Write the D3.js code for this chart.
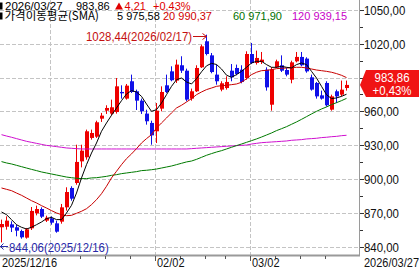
<!DOCTYPE html>
<html><head><meta charset="utf-8">
<script src="https://cdn.jsdelivr.net/npm/d3@7"></script>
<style>html,body{margin:0;padding:0;background:#fff;overflow:hidden}</style>
</head><body><svg id="c" width="419" height="269"></svg>
<script>
const dates = ["2025/12/16","2025/12/17","2025/12/18","2025/12/19","2025/12/22","2025/12/23","2025/12/24","2025/12/26","2025/12/29","2025/12/30",
"2026/01/02","2026/01/05","2026/01/06","2026/01/07","2026/01/08","2026/01/09","2026/01/12","2026/01/13","2026/01/14","2026/01/15","2026/01/16",
"2026/01/19","2026/01/20","2026/01/21","2026/01/22","2026/01/23","2026/01/26","2026/01/27","2026/01/28","2026/01/29","2026/01/30",
"2026/02/02","2026/02/03","2026/02/04","2026/02/05","2026/02/06","2026/02/09","2026/02/10","2026/02/11","2026/02/12","2026/02/13",
"2026/02/17","2026/02/18","2026/02/19","2026/02/20","2026/02/23","2026/02/24","2026/02/25","2026/02/26","2026/02/27",
"2026/03/02","2026/03/03","2026/03/04","2026/03/05","2026/03/06","2026/03/09","2026/03/10","2026/03/11","2026/03/12","2026/03/13",
"2026/03/16","2026/03/17","2026/03/18","2026/03/19","2026/03/20","2026/03/23","2026/03/24","2026/03/25","2026/03/26","2026/03/27"];

const open = [857.5,858.0,860.1,857.5,854.2,848.3,856.6,869.9,873.7,863.4,
865.4,861.0,862.5,875.2,892.4,896.8,916.0,919.6,936.8,937.9,
953.9,961.0,958.4,959.8,977.6,971.7,987.1,978.2,969.9,958.4,
950.1,942.7,962.8,983.5,995.9,987.7,1001.3,996.5,971.7,978.2,
999.5,1022.6,1010.1,993.0,979.7,981.1,996.5,998.9,997.4,990.0,
1011.3,1003.3,1004.2,997.4,966.3,999.5,1001.3,997.1,988.5,1004.8,
1008.7,1007.2,990.6,985.6,974.6,985.6,961.9,978.2,975.2,981.1];
const close = [860.4,863.4,857.2,854.5,848.6,855.7,872.0,873.7,866.9,866.0,
861.6,853.6,875.2,888.8,882.9,915.5,925.5,942.7,941.2,950.7,
956.6,963.4,964.0,982.6,976.4,983.2,977.6,969.9,960.4,951.6,
939.1,961.0,977.6,977.6,988.0,1001.9,996.5,970.8,978.2,998.9,
1018.1,1011.3,995.3,987.1,985.3,986.5,990.6,993.6,986.5,1011.3,
1003.3,1007.8,1006.3,981.7,997.7,1004.8,996.5,993.0,1003.9,1008.7,
1001.3,995.9,979.7,973.7,971.7,965.8,973.7,973.7,979.65,983.86];
const high = [864.3,867.2,862.8,859.8,855.4,856.9,875.5,876.7,875.2,867.8,
867.2,863.4,878.2,893.0,893.9,930.8,930.8,944.2,944.2,952.1,
959.0,965.8,970.8,990.0,983.5,984.7,993.0,979.7,971.7,961.9,
952.1,967.8,982.6,993.0,1000.4,1006.3,1009.3,998.3,980.6,1001.3,
1019.6,1028.44,1012.2,1001.9,987.1,991.5,1002.4,1001.9,1001.3,1013.7,
1021.1,1014.3,1013.1,999.5,999.5,1006.3,1010.1,998.9,1005.4,1013.1,
1013.1,1008.4,993.0,986.5,978.8,987.1,975.2,979.7,987.7,987.7];
const low = [844.06,855.4,853.3,849.5,847.4,847.4,855.1,868.1,865.7,862.2,
859.8,852.7,860.7,872.3,881.1,895.3,910.7,917.5,935.3,936.8,
951.0,958.1,956.9,958.4,971.7,970.8,976.7,961.6,958.1,948.6,
930.8,932.3,960.4,976.7,987.1,985.6,994.5,969.3,969.9,977.6,
998.9,1010.1,994.2,984.1,978.2,979.7,987.1,992.4,985.3,988.5,
1002.4,1001.9,1002.4,978.8,961.0,998.9,995.3,991.5,985.3,1003.9,
1000.4,994.7,978.8,971.7,970.8,964.6,961.0,967.8,973.7,978.8];

const ma5 = [871.1,868.7,864.3,859.8,857.5,856.0,857.5,859.8,862.2,865.2,
866.3,864.3,864.3,870.2,877.0,887.9,901.3,913.1,923.4,932.3,
942.7,950.1,956.9,963.4,969.9,975.8,978.8,977.6,973.7,966.9,
960.4,961.9,967.8,975.2,982.6,988.5,990.0,986.5,984.7,989.4,
995.5,1000.8,1003.0,1002.0,998.0,992.5,990.6,993.0,995.9,999.5,
1003.3,1004.8,1004.8,1001.9,999.5,999.5,1000.4,999.5,998.9,1001.9,
1003.3,1001.9,995.9,990.0,982.6,975.2,971.7,972.3,973.7,975.58];
const ma20 = [892.4,891.2,890.0,887.9,885.9,883.5,881.1,879.1,876.7,874.6,
872.3,870.2,868.7,867.8,868.1,869.9,871.7,874.0,877.6,882.0,
887.3,893.9,901.3,907.2,913.1,918.4,922.6,927.3,932.3,936.2,
939.7,945.6,950.1,954.5,959.0,963.4,965.8,968.7,971.7,975.2,
977.6,979.7,981.1,982.6,983.2,983.5,984.1,984.7,986.2,989.4,
993.0,995.1,996.5,996.8,997.4,998.3,998.6,998.9,999.2,999.5,
999.5,998.9,998.0,997.1,996.5,995.9,995.1,993.9,992.4,990.37];
const ma60 = [915.8,914.6,913.7,912.5,911.3,910.1,908.9,907.8,906.6,905.7,
904.8,903.9,903.0,902.1,901.5,901.0,900.7,900.7,901.3,901.5,
902.1,902.7,903.6,904.2,905.1,905.7,906.3,906.9,907.8,908.1,
908.6,909.2,910.1,911.0,911.9,913.1,914.3,915.5,916.3,917.8,
919.6,921.4,922.9,924.3,925.5,927.0,928.5,930.0,931.4,932.9,
934.4,935.9,937.6,939.4,941.2,943.3,945.0,946.8,948.9,951.0,
953.3,955.7,958.1,960.4,962.5,964.3,966.4,968.1,969.9,971.90];
const ma120 = [939.7,938.5,937.4,936.2,935.0,933.8,932.9,932.0,931.1,930.2,
929.7,929.1,928.5,927.9,927.6,927.3,927.0,927.0,927.0,927.0,
927.0,927.0,927.0,927.0,927.0,927.0,927.0,927.0,927.0,927.0,
927.0,927.0,927.0,927.0,927.0,927.0,927.0,927.0,927.3,927.6,
927.9,928.2,928.5,928.8,929.1,929.4,929.7,930.0,930.2,930.5,
931.4,932.0,932.6,932.9,933.2,933.5,933.8,934.1,934.7,935.0,
935.3,935.9,936.2,936.5,937.1,937.4,937.9,938.2,938.8,939.15];

const yTicks = [840,870,900,930,960,990,1020,1050];
const xTickDates = ["2025/12/16","2026/02/02","2026/03/02","2026/03/27"];
const xTickText = ["2025/12/16","02/02","03/02","2026/03/27"];
const monthGridDates = ["2026/01/02","2026/02/02","2026/03/02"];
const weekTickDates = ["2026/01/12","2026/01/19","2026/01/26","2026/02/09","2026/02/17","2026/02/23","2026/03/09","2026/03/16","2026/03/23"];

const headerRow1 = {date:"2026/03/27", price:"983,86", change:"4,21", pct:"+0,43%"};
const maLabels = ["5 975,58","20 990,37","60 971,90","120 939,15"];
const highText = "1028,44(2026/02/17)";
const lowText = "844,06(2025/12/16)";
const tagText = ["983,86","+0,43%"];

const svg = d3.select("#c");
const W = 419, H = 269, plotR = 359, plotB = 255;
const x = d3.scalePoint().domain(dates).range([2, 347]);
const y = d3.scaleLinear().domain([840, 1050]).range([247, 10.4]);
const fmt = v => d3.format(".2f")(v).replace(".", ",");
const RED = "#ee0000", BLUE = "#1010e8";
const NARROW = "Liberation Sans, Arial, sans-serif";
const TAG_TOP = 70, TAG_BOT = 97;

// grid
const g = svg.append("g");
g.selectAll("line.hg").data(yTicks).join("line")
  .attr("x1", 0).attr("x2", plotR).attr("y1", d => Math.floor(y(d)) + 0.5).attr("y2", d => Math.floor(y(d)) + 0.5)
  .attr("stroke", "#c4c4c4").attr("stroke-dasharray", "4,2");
g.selectAll("line.vg").data(monthGridDates).join("line")
  .attr("x1", d => x(d) - 1.5).attr("x2", d => x(d) - 1.5).attr("y1", 0).attr("y2", plotB)
  .attr("stroke", "#c4c4c4").attr("stroke-dasharray", "4,2");

// axes lines
svg.append("line").attr("x1", plotR + 0.5).attr("x2", plotR + 0.5).attr("y1", 0).attr("y2", plotB + 1)
  .attr("stroke", "#9a9a9a");
svg.append("line").attr("x1", 0).attr("x2", plotR + 1).attr("y1", plotB + 0.5).attr("y2", plotB + 0.5)
  .attr("stroke", "#9a9a9a").attr("stroke-width", 2);

// right ticks
const minor = yTicks.slice(0, -1).map(d => d + 15);
svg.selectAll("line.mt").data(minor).join("line")
  .attr("x1", plotR + 1).attr("x2", plotR + 4).attr("y1", d => Math.floor(y(d)) + 0.5).attr("y2", d => Math.floor(y(d)) + 0.5)
  .attr("stroke", "#333");
svg.selectAll("line.Mt").data(yTicks).join("line")
  .attr("x1", plotR + 1).attr("x2", plotR + 5).attr("y1", d => Math.floor(y(d)) + 0.5).attr("y2", d => Math.floor(y(d)) + 0.5)
  .attr("stroke", "#333");
// labels hidden behind the price tag are not drawn (as in the reference)
svg.selectAll("text.yl").data(yTicks.filter(d => y(d) < TAG_TOP - 3 || y(d) > TAG_BOT + 3)).join("text")
  .attr("transform", d => `translate(${plotR + 5},${y(d) + 4.6}) scale(0.88,1)`)
  .attr("font-family", NARROW).attr("font-size", 13).attr("fill", "#111")
  .text(d => fmt(d));

// x ticks
svg.selectAll("line.wt").data(weekTickDates).join("line")
  .attr("x1", d => x(d) - 1.5).attr("x2", d => x(d) - 1.5).attr("y1", plotB + 1).attr("y2", plotB + 4)
  .attr("stroke", "#555");
svg.selectAll("line.mtk").data(monthGridDates.slice(1)).join("line")
  .attr("x1", d => x(d) - 1.5).attr("x2", d => x(d) - 1.5).attr("y1", plotB + 1).attr("y2", plotB + 6)
  .attr("stroke", "#555");
svg.selectAll("text.xl").data(xTickDates).join("text")
  .attr("transform", (d, i) => i === xTickDates.length - 1 ? `translate(${W},267) scale(0.88,1)` : `translate(${x(d)},267) scale(0.88,1)`)
  .attr("text-anchor", (d, i) => i === xTickDates.length - 1 ? "end" : "start")
  .attr("font-family", NARROW).attr("font-size", 12.5).attr("fill", "#111")
  .text((d, i) => xTickText[i]);

// candles
const cd = dates.map((d, i) => ({d, o: open[i], h: high[i], l: low[i], c: close[i]}));
const cg = svg.append("g");
cg.selectAll("rect.w").data(cd).join("rect")
  .attr("x", d => x(d.d) - 1).attr("width", 1)
  .attr("y", d => y(d.h)).attr("height", d => Math.max(1, y(d.l) - y(d.h)))
  .attr("fill", d => d.c >= d.o ? RED : BLUE);
cg.selectAll("rect.b").data(cd).join("rect")
  .attr("x", d => x(d.d) - 2).attr("width", 4)
  .attr("y", d => y(Math.max(d.o, d.c))).attr("height", d => Math.max(1, Math.abs(y(d.o) - y(d.c))))
  .attr("fill", d => d.c >= d.o ? RED : BLUE);

// MA lines
const maSeries = [[ma120, "#d010d0"], [ma60, "#007a00"], [ma20, "#c80000"], [ma5, "#000000"]];
const line = d3.line().x((v, i) => x(dates[i]) - 0.5).y(v => y(v));
maSeries.forEach(([arr, col]) => {
  svg.append("path").attr("d", line(arr)).attr("fill", "none").attr("stroke", col).attr("stroke-width", 1);
});

// high / low labels
const hiIdx = high.indexOf(d3.max(high));
svg.append("text").attr("transform", `translate(86,40.5) scale(0.88,1)`)
  .attr("font-family", NARROW).attr("font-size", 13).attr("fill", "#c41010").text(highText);
const hx = x(dates[hiIdx]) - 0.5;
svg.append("line").attr("x1", 193).attr("x2", hx).attr("y1", 36.5).attr("y2", 36.5).attr("stroke", "#c41010");
svg.append("path").attr("d", `M${hx - 4},33.5 L${hx},36.5 L${hx - 4},39.5`).attr("fill", "none").attr("stroke", "#c41010");

svg.append("line").attr("x1", 0).attr("x2", 8).attr("y1", 246.5).attr("y2", 246.5).attr("stroke", "#2828a8");
svg.append("path").attr("d", `M3.5,243.5 L0.5,246.5 L3.5,249.5`).attr("fill", "none").attr("stroke", "#2828a8");
svg.append("text").attr("transform", `translate(9,251.5) scale(0.88,1)`)
  .attr("font-family", NARROW).attr("font-size", 13).attr("fill", "#2828a8").text(lowText);

// price tag
const cy = y(close[close.length - 1]);
svg.append("path").attr("d", `M360,${cy} L366,${TAG_TOP} L419,${TAG_TOP} L419,${TAG_BOT} L366,${TAG_BOT} Z`).attr("fill", "#f01414");
svg.append("text").attr("transform", `translate(392,82) scale(0.88,1)`).attr("text-anchor", "middle")
  .attr("font-family", NARROW).attr("font-size", 13).attr("fill", "#fff").text(tagText[0]);
svg.append("text").attr("transform", `translate(392,95) scale(0.88,1)`).attr("text-anchor", "middle")
  .attr("font-family", NARROW).attr("font-size", 13).attr("fill", "#fff").text(tagText[1]);

// header
const HF = "Liberation Sans, Arial, sans-serif";
svg.append("rect").attr("x", 0).attr("y", 2.5).attr("width", 2.5).attr("height", 7).attr("fill", "#000");
svg.append("rect").attr("x", 0).attr("y", 12.5).attr("width", 2.5).attr("height", 7).attr("fill", "#000");
const hdr = (t, xx, yy, col, fam, fs) => svg.append("text").attr("x", xx).attr("y", yy)
  .attr("font-family", fam || HF).attr("font-size", fs || 11).attr("fill", col).text(t);
hdr(headerRow1.date, 5, 9.5, "#000", HF, 11.5);
hdr(headerRow1.price, 76, 9.5, "#000");
svg.append("path").attr("d", "M115,9.5 L119,2.5 L123,9.5 Z").attr("fill", "#e00000");
hdr(headerRow1.change, 124.5, 9.5, "#e00000");
hdr(headerRow1.pct, 153, 9.5, "#e00000");
hdr("가격이동평균(SMA)", 4.5, 20, "#000", "'Noto Sans CJK KR', sans-serif", 11.5);
hdr(maLabels[0], 117, 20, "#000");
hdr(maLabels[1], 163, 20, "#d00000");
hdr(maLabels[2], 233, 20, "#007000");
hdr(maLabels[3], 292, 20, "#c800c8");
</script></body></html>
